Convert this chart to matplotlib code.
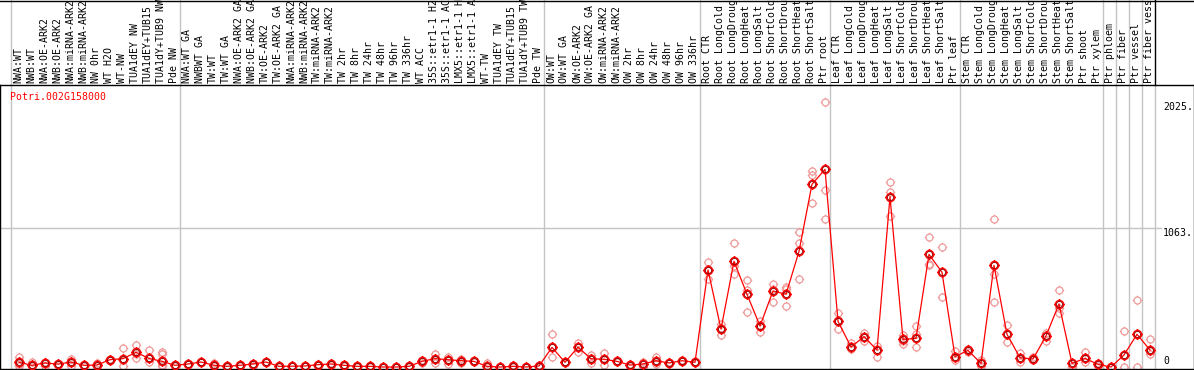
import matplotlib

matplotlib.use("Agg")
import matplotlib.pyplot as plt
from matplotlib.lines import Line2D
from matplotlib.path import Path
from matplotlib.transforms import blended_transform_factory


GENE = "Potri.002G158000"

labels = [
    # NW
    "NWA:WT", "NWB:WT", "NWA:OE-ARK2", "NWB:OE-ARK2", "NWA:miRNA-ARK2", "NWB:miRNA-ARK2",
    "NW 0hr", "WT H2O", "WT-NW", "TUA1dEY NW", "TUA1dEY+TUB15", "TUA1dY+TUB9 NW", "Pde NW",
    # TW
    "NWA:WT GA", "NWBWT GA", "TW:WT", "TW:WT GA", "NWA:OE-ARK2 GA", "NWB:OE-ARK2 GA",
    "TW:OE-ARK2", "TW:OE-ARK2 GA", "NWA:miRNA-ARK2", "NWB:miRNA-ARK2", "TW:miRNA-ARK2",
    "TW:miRNA-ARK2", "TW 2hr", "TW 8hr", "TW 24hr", "TW 48hr", "TW 96hr", "TW 336hr",
    "WT ACC", "35S::etr1-1 H2O", "35S::etr1-1 ACC", "LMX5::etr1-1 H2O", "LMX5::etr1-1 ACC",
    "WT-TW", "TUA1dEY TW", "TUA1dEY+TUB15", "TUA1dY+TUB9 TW", "Pde TW",
    # OW
    "OW:WT", "OW:WT GA", "OW:OE-ARK2", "OW:OE-ARK2 GA", "OW:miRNA-ARK2", "OW:miRNA-ARK2",
    "OW 2hr", "OW 8hr", "OW 24hr", "OW 48hr", "OW 96hr", "OW 336hr",
    # root
    "Root CTR", "Root LongCold", "Root LongDrought", "Root LongHeat", "Root LongSalt",
    "Root ShortCold", "Root ShortDrought", "Root ShortHeat", "Root ShortSalt", "Ptr root",
    # leaf
    "Leaf CTR", "Leaf LongCold", "Leaf LongDrought", "Leaf LongHeat", "Leaf LongSalt",
    "Leaf ShortCold", "Leaf ShortDrought", "Leaf ShortHeat", "Leaf ShortSalt", "Ptr leaf",
    # stem
    "Stem CTR", "Stem LongCold", "Stem LongDrought", "Stem LongHeat", "Stem LongSalt",
    "Stem ShortCold", "Stem ShortDrought", "Stem ShortHeat", "Stem ShortSalt", "Ptr shoot",
    "Ptr xylem", "Ptr phloem", "Ptr fiber", "Ptr vessel", "Ptr fiber vessel",
]

# index of the first column of every group (a grey divider is drawn before it)
group_starts = [0, 13, 41, 53, 63, 73, 84, 85, 86, 87, 88]

means = [
    36, 13, 31, 22, 38, 13, 15, 56, 64, 112, 66, 43, 13,
    23, 38, 13, 5, 13, 23, 38, 5, 6, 8, 18, 23, 13, 5, 5, 0, 0, 5, 43, 64, 56, 48, 43, 5, 0, 5, 0, 8,
    150, 36, 152, 63, 59, 43, 15, 23, 48, 31, 48, 36,
    742, 290, 808, 556, 313, 581, 556, 884, 1397, 1511,
    349, 153, 232, 130, 1302, 211, 219, 861, 724, 79,
    127, 28, 777, 250, 71, 61, 237, 482, 28, 66, 20,
    0, 92, 250, 130,
]

replicates = [
    [74, 25, 10], [41, 5], [36, 5], [26, 18], [64, 30, 5], [16, 10], [33, 5], [60, 52],
    [143, 50, 5], [168, 100, 66], [130, 70, 36], [117, 100, 15, 5], [16, 10],
    [26, 20], [40, 36], [33, 5], [8, 2], [16, 10], [26, 5], [40, 36], [8, 2], [8, 4],
    [10, 6], [22, 14], [33, 15], [16, 10], [8, 2], [8, 2], [2, 0], [2, 0], [8, 2],
    [56, 28], [99, 64, 28], [79, 56, 20], [64, 48, 30], [46, 40], [28, 0], [2, 0],
    [18, 0], [2, 0], [18, 0],
    [250, 150, 76], [40, 32], [186, 150, 117], [92, 70, 28], [104, 59, 15], [48, 38],
    [20, 10], [35, 0], [79, 40, 25], [35, 27], [52, 44], [40, 32],
    [800, 742, 675], [329, 300, 245], [946, 770, 711], [663, 590, 420], [355, 313, 270],
    [635, 600, 497], [609, 600, 464], [1030, 946, 670], [1501, 1468, 1254],
    [2025, 1353, 1129],
    [410, 349, 288], [180, 140], [262, 200], [160, 79], [1417, 1341, 1154],
    [245, 200, 173], [313, 250, 155], [996, 790, 780], [920, 538], [125, 50],
    [140, 115], [50, 10], [1129, 711, 494], [321, 189], [110, 40], [80, 50],
    [260, 196], [589, 450, 410], [10, 0], [112, 40], [30, 10],
    [0, 0], [275, 0], [512, 0], [211, 120, 100],
]

ytick_values = [0, 1063, 2025]
ytick_labels = ["0", "1063.", "2025."]


W, H = 1194, 370
FONT = "DejaVu Sans Mono"
GREY = "#c4c4c4"
PINK = "#ef9a9a"

# pixel layout of the reference: columns are 13 px apart, first point at x=19
X0, DX = 19.0, 13.0
PLOT_TOP, PLOT_BOTTOM = 85.0, 368.5
ZERO_Y, PX_PER_UNIT = 367.0, 0.1308


def ring_marker(tick=1.35):
    circle = Path.unit_circle()
    ticks = Path(
        [(0, 1), (0, tick), (0, -1), (0, -tick), (1, 0), (tick, 0), (-1, 0), (-tick, 0)],
        [Path.MOVETO, Path.LINETO] * 4,
    )
    return Path.make_compound_path(circle, ticks)


def main():
    fig = plt.figure(figsize=(W / 100, H / 100), dpi=100)
    ax = fig.add_axes([0, (H - PLOT_BOTTOM) / H, 1, (PLOT_BOTTOM - PLOT_TOP) / H])

    ax.set_xlim(-X0 / DX, (W - X0) / DX)
    ax.set_ylim((ZERO_Y - PLOT_BOTTOM) / PX_PER_UNIT, (ZERO_Y - PLOT_TOP) / PX_PER_UNIT)
    ax.set_xticks([])
    ax.set_yticks([])
    for sp in ax.spines.values():
        sp.set_color("black")
        sp.set_linewidth(1.0)

    xs = list(range(len(labels)))
    marker = ring_marker()

    # group dividers, running up through the header
    div_x = [k - 8.0 / DX for k in group_starts]
    for k, x in zip(group_starts, div_x):
        ax.axvline(x, color=GREY, lw=1.0, zorder=1)
        ax.plot([x, x], [1.0, 1.0 + PLOT_TOP / (PLOT_BOTTOM - PLOT_TOP)],
                transform=blended_transform_factory(ax.transData, ax.transAxes),
                color="black" if k == len(labels) else GREY, lw=1.0, clip_on=False)

    # horizontal grid line at the middle value
    ax.plot([ax.get_xlim()[0], (1161 - X0) / DX], [ytick_values[1]] * 2,
            color=GREY, lw=1.0, zorder=1)

    # replicates
    rx, ry = [], []
    for x, reps in zip(xs, replicates):
        for v in reps:
            rx.append(x)
            ry.append(v)
    ax.plot(rx, ry, linestyle="none", marker=marker, markersize=6.8,
            markerfacecolor="none", markeredgecolor=PINK, markeredgewidth=0.9, zorder=2)

    # means
    ax.plot(xs, means, color="#ff0000", lw=0.9, zorder=3)
    ax.plot(xs, means, linestyle="none", marker=marker, markersize=7.8,
            markerfacecolor="none", markeredgecolor="#ff0000", markeredgewidth=1.1, zorder=4)
    ax.plot(xs, means, linestyle="none", marker="o", markersize=4.4,
            markerfacecolor="none", markeredgecolor="#8a0000", markeredgewidth=0.6, zorder=5)

    # column labels in the header
    lab_tr = blended_transform_factory(ax.transData, ax.transAxes)
    lab_y = 1.0 + 2.0 / (PLOT_BOTTOM - PLOT_TOP)
    for x, lab in zip(xs, labels):
        ax.text(x - 1.0 / DX, lab_y, lab, rotation=90, ha="center", va="bottom",
                family=FONT, fontsize=7.1, transform=lab_tr, clip_on=False)

    # value labels on the right
    val_tr = blended_transform_factory(ax.transAxes, ax.transData)
    for v, s in zip(ytick_values, ytick_labels):
        ax.text(1163 / W, v + (1.5 / PX_PER_UNIT if v == 0 else 0), s,
                ha="left", va="bottom" if v == 0 else "top",
                family=FONT, fontsize=7.1, transform=val_tr)

    ax.text(10 / W, (PLOT_BOTTOM - 97) / (PLOT_BOTTOM - PLOT_TOP), GENE, color="#ff0000",
            ha="left", va="center", family=FONT, fontsize=7.1, transform=ax.transAxes)

    # thin rule along the very top of the image
    fig.add_artist(Line2D([0, 1], [1 - 0.6 / H, 1 - 0.6 / H], transform=fig.transFigure,
                          color="black", lw=1.0))

    fig.savefig("out.png", dpi=100, facecolor="white")
    plt.close(fig)


if __name__ == "__main__":
    main()
